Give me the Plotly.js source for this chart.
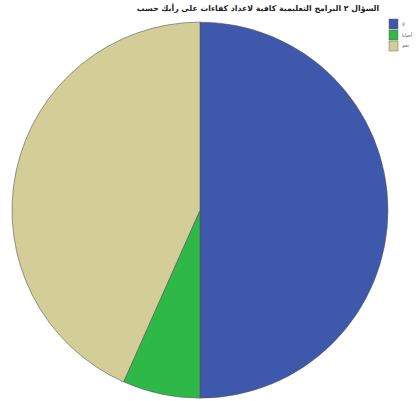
<!DOCTYPE html>
<html><head><meta charset="utf-8">
<script src="https://cdn.plot.ly/plotly-3.0.1.min.js"></script>
<style>body{margin:0;background:#fff}#c{width:420px;height:401px}</style>
</head><body><div id="c"></div>
<script>
const labels = ["لا", "أحيانا", "نعم"];
const values = [15, 2, 13];
const colors = ["#3E58AC", "#2EB848", "#D3CE97"];
const titleText = "السؤال ٢ البرامج التعليمية كافية لاعداد كفاءات على رأيك حسب";

const W = 420, H = 401;
const shapes = [], annotations = [];
labels.forEach((lab, i) => {
  const y0 = 19 + i * 11;
  shapes.push({type: "rect", xref: "paper", yref: "paper",
    x0: 389 / W, x1: 398 / W, y0: 1 - (y0 + 10) / H, y1: 1 - y0 / H,
    fillcolor: colors[i], line: {color: "#666", width: 0.5}});
  annotations.push({xref: "paper", yref: "paper", x: 400 / W, y: 1 - (y0 + 5) / H,
    xanchor: "left", yanchor: "middle", showarrow: false, text: lab,
    font: {family: "DejaVu Sans", size: 5, color: "#555"}});
});

Plotly.newPlot("c", [{
  type: "pie",
  labels: labels,
  values: values,
  sort: false,
  direction: "clockwise",
  rotation: 0,
  textinfo: "none",
  hoverinfo: "label+percent",
  marker: {colors: colors, line: {color: "#555555", width: 0.6}},
  domain: {x: [0.0286, 0.9238], y: [0.0, 0.952]}
}], {
  width: W, height: H,
  margin: {l: 0, r: 0, t: 0, b: 0},
  paper_bgcolor: "#ffffff",
  title: {text: "<b>" + titleText + "</b>", font: {family: "DejaVu Sans", size: 7.8, color: "#222"}, x: 258 / W, xanchor: "center", y: 1 - 6 / H, yanchor: "top"},
  showlegend: false,
  shapes: shapes,
  annotations: annotations
}, {staticPlot: true});
</script></body></html>
